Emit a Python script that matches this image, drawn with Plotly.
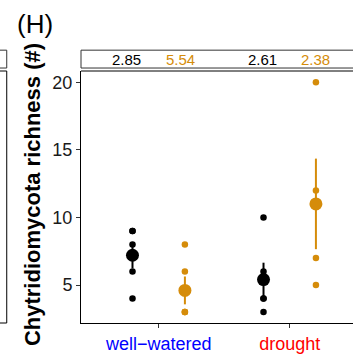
import plotly.graph_objects as go

# ---- data ----
treatments = ["well−watered", "drought"]
treatment_colors = ["#0000FF", "#FF0000"]
groups = ["A", "B"]  # black / orange series
group_colors = ["#000000", "#D58C0A"]

# raw points per (treatment, group)
points_A_ww = [9, 9, 8, 6, 4]
points_B_ww = [8, 6, 3, 3, 3]
points_A_dr = [10, 6, 4, 4, 3]
points_B_dr = [20, 12, 7, 5]

means_A = [7.2, 5.4]
se_A = [0.97, 1.25]
means_B = [4.6, 11.0]
se_B = [1.03, 3.35]

strip_A = ["2.85", "2.61"]
strip_B = ["5.54", "2.38"]

y_ticks = [5, 10, 15, 20]

# ---- figure ----
dodge = 0.2
base = [1, 2]
strip_off_A = [-0.242, -0.211]
strip_off_B = [0.170, 0.193]
fig = go.Figure()

pts = [[points_A_ww, points_A_dr], [points_B_ww, points_B_dr]]
means = [means_A, means_B]
ses = [se_A, se_B]
for gi, col in enumerate(group_colors):
    off = -dodge if gi == 0 else dodge
    xs, ys = [], []
    for ti in range(2):
        for v in pts[gi][ti]:
            xs.append(base[ti] + off)
            ys.append(v)
    fig.add_trace(go.Scatter(x=xs, y=ys, mode="markers",
                             marker=dict(color=col, size=6.5, line=dict(width=0)),
                             showlegend=False, hoverinfo="skip"))
    fig.add_trace(go.Scatter(x=[b + off for b in base], y=means[gi], mode="markers",
                             marker=dict(color=col, size=13, line=dict(width=0)),
                             error_y=dict(type="data", array=ses[gi], color=col,
                                          thickness=2, width=0),
                             showlegend=False, hoverinfo="skip"))

ticktext = [f"<span style='color:{c}'>{t}</span>" for t, c in zip(treatments, treatment_colors)]

fig.update_layout(
    width=353, height=354,
    margin=dict(l=81, r=0, t=71, b=29),
    paper_bgcolor="white", plot_bgcolor="white",
    font=dict(family="Liberation Sans, Arial, sans-serif", color="#1a1a1a"),
    xaxis=dict(range=[0.407, 2.483], tickvals=base, ticktext=ticktext,
               showgrid=False, zeroline=False, showline=True, linecolor="black",
               linewidth=1, ticks="outside", ticklen=4, tickcolor="#333",
               tickfont=dict(size=18)),
    yaxis=dict(range=[2.19, 20.83], tickvals=y_ticks,
               showgrid=False, zeroline=False, showline=True, linecolor="black",
               linewidth=1, ticks="outside", ticklen=4, tickcolor="#333",
               tickfont=dict(size=18, color="#1a1a1a")),
)

# top border of panel
fig.add_shape(type="line", xref="paper", yref="paper", x0=0, x1=1.01, y0=1, y1=1,
              line=dict(color="black", width=1))
# strip box
fig.add_shape(type="rect", xref="paper", yref="paper", x0=0, x1=1.05,
              y0=1.0118, y1=1.0827, fillcolor="white", line=dict(color="#333", width=1))
# neighbouring panel remnant on the left
fig.add_shape(type="rect", xref="paper", yref="paper", x0=-0.4, x1=-0.273,
              y0=0, y1=1, line=dict(color="black", width=1))
fig.add_shape(type="rect", xref="paper", yref="paper", x0=-0.4, x1=-0.273,
              y0=1.0118, y1=1.0827, fillcolor="white", line=dict(color="#333", width=1))

for ti in range(2):
    fig.add_annotation(x=base[ti] + strip_off_A[ti], y=1.045, xref="x", yref="paper",
                       xanchor="center", yanchor="middle",
                       text=strip_A[ti], showarrow=False,
                       font=dict(size=15, color=group_colors[0]))
    fig.add_annotation(x=base[ti] + strip_off_B[ti], y=1.045, xref="x", yref="paper",
                       xanchor="center", yanchor="middle",
                       text=strip_B[ti], showarrow=False,
                       font=dict(size=15, color=group_colors[1]))

fig.add_annotation(x=-0.176, y=0.508, xref="paper", yref="paper",
                   xanchor="center", yanchor="middle",
                   text="<b>Chytridiomycota richness (#)</b>", textangle=-90,
                   showarrow=False, font=dict(size=22, color="black"))
fig.add_annotation(x=-0.243, y=1.185, xref="paper", yref="paper",
                   xanchor="left", yanchor="middle",
                   text="(H)", showarrow=False, font=dict(size=26, color="black"))

fig.write_html("out.html")
